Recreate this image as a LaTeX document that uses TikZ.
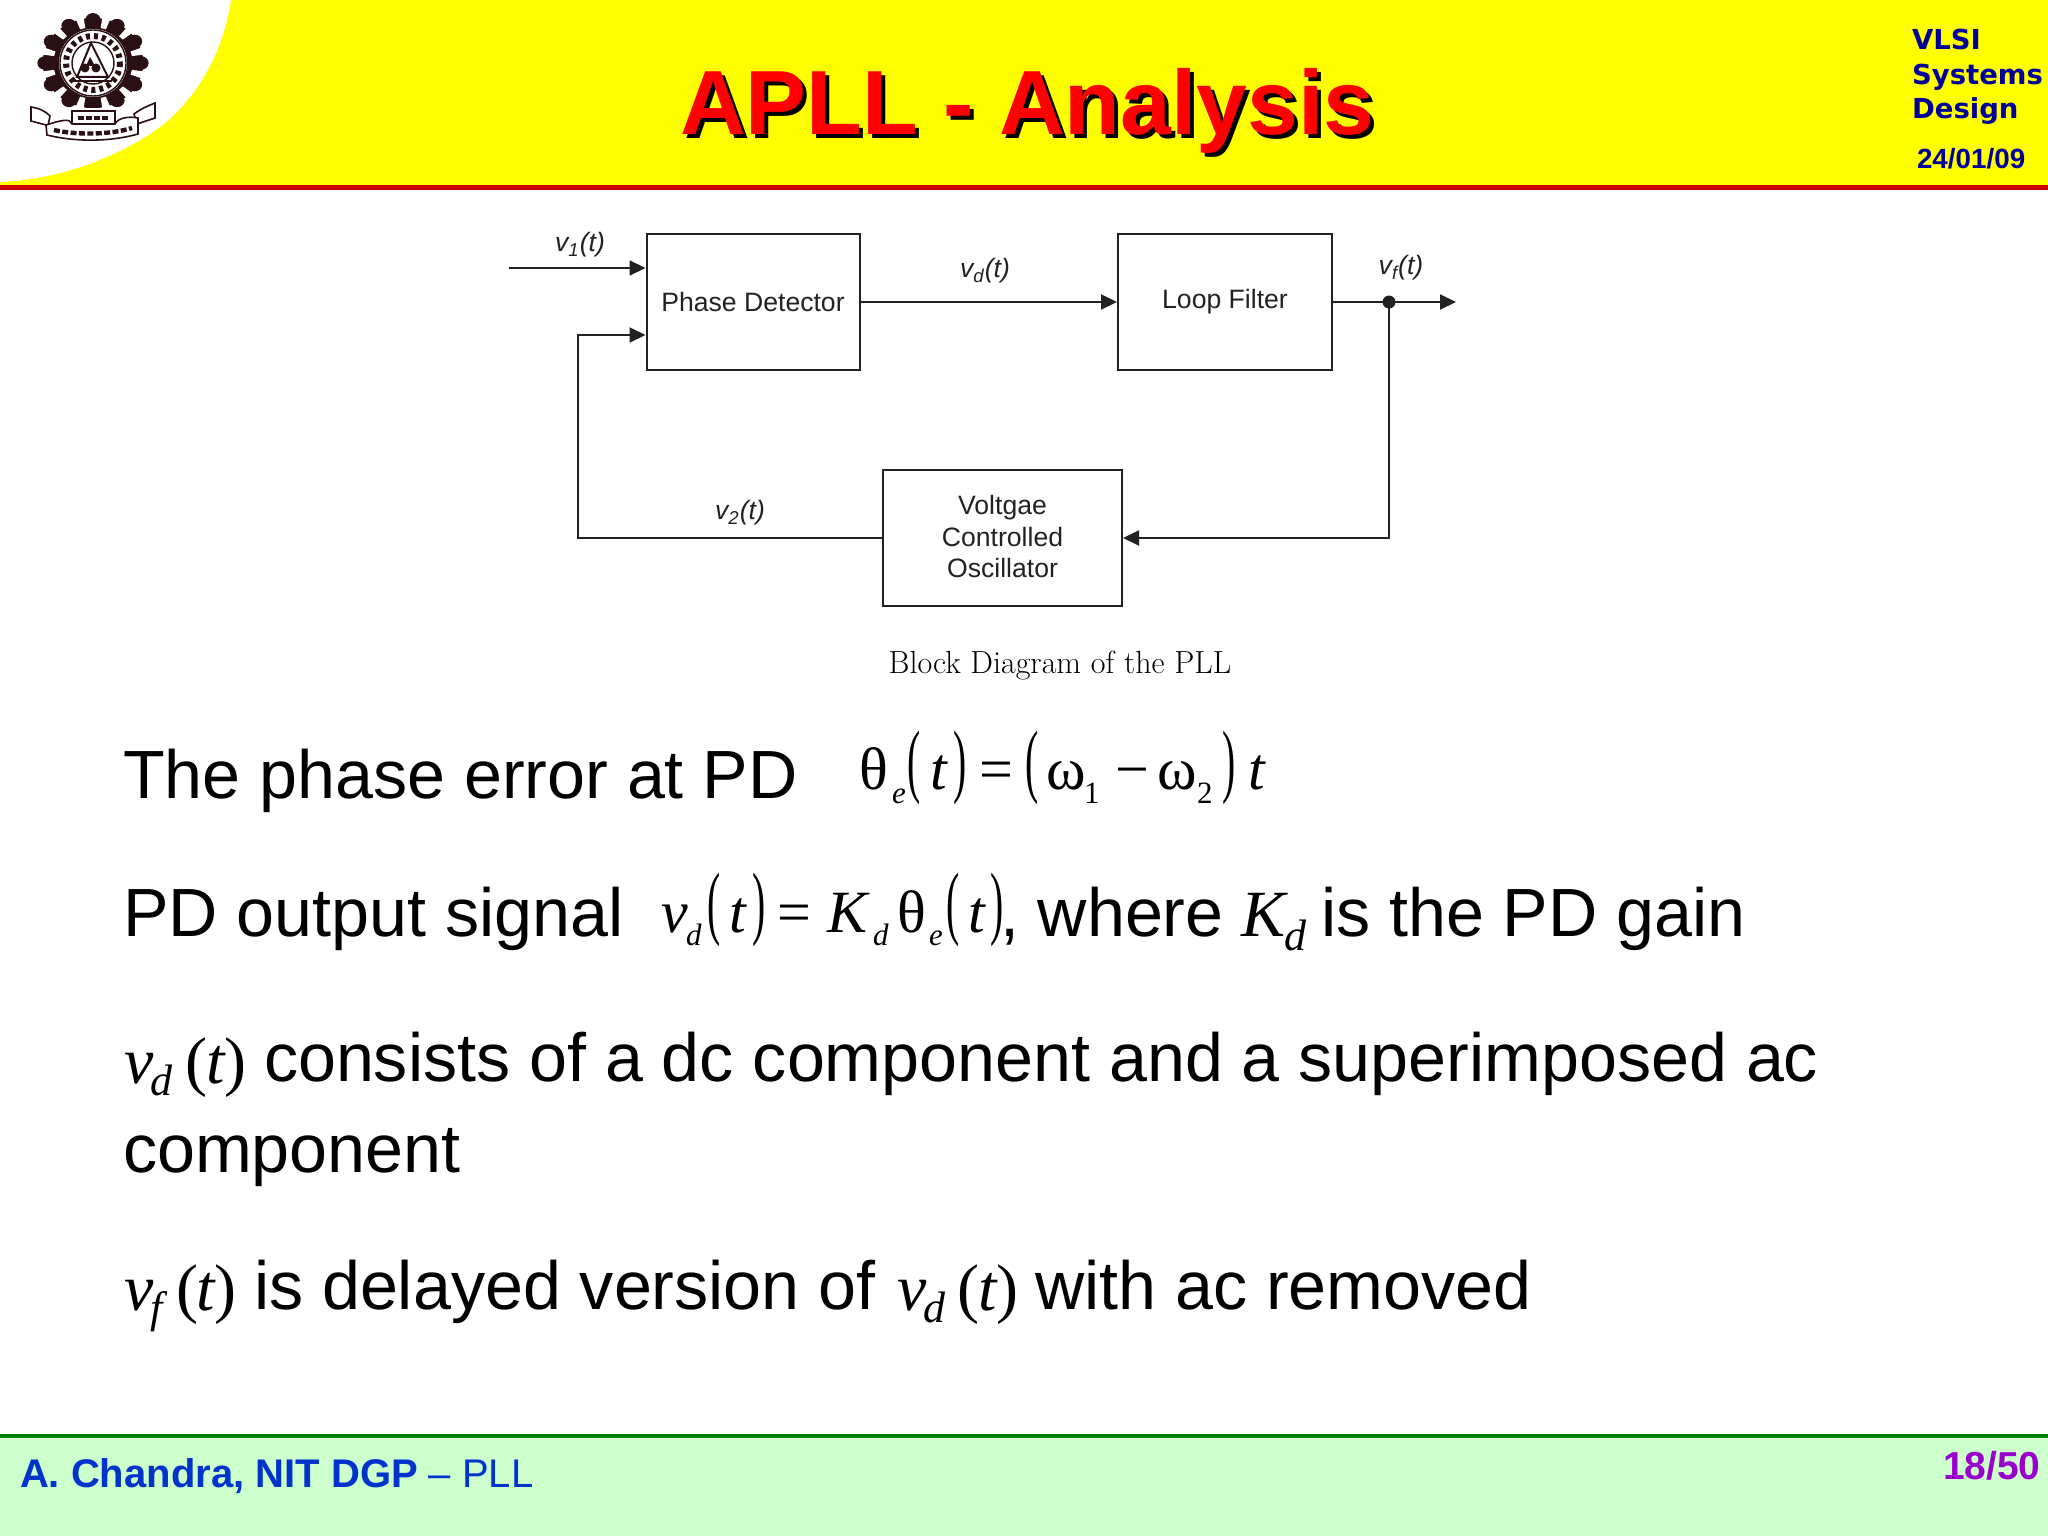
\documentclass[tikz,border=0pt]{standalone}
\usepackage{fontspec}
\usepackage{graphicx}
\usetikzlibrary{arrows.meta}
\newfontfamily\arl{Liberation Sans}
\newfontfamily\tms{Liberation Serif}
\newfontfamily\vrd{DejaVu Sans}
\definecolor{hdryellow}{HTML}{FFFF00}
\definecolor{hdrred}{HTML}{CC0000}
\definecolor{navyt}{HTML}{000099}
\definecolor{footg}{HTML}{CCFFCC}
\definecolor{footl}{HTML}{008000}
\definecolor{footb}{HTML}{0033CC}
\definecolor{pagep}{HTML}{9900CC}
\definecolor{logod}{HTML}{2A0F14}
\definecolor{ink}{HTML}{222222}
\tikzset{
  x=0.5pt,y=-0.5pt,
  lab/.style={anchor=base west,inner sep=0pt,outer sep=0pt},
  body/.style={lab,font=\arl\fontsize{34.1}{40}\selectfont,text=black},
  mi/.style={lab,font=\tms\itshape\fontsize{30}{34}\selectfont,text=black},
  mr/.style={lab,font=\tms\fontsize{30}{34}\selectfont,text=black},
  mlargei/.style={lab,font=\tms\itshape\fontsize{33}{40}\selectfont,text=black},
  mlarger/.style={lab,font=\tms\fontsize{33}{40}\selectfont,text=black},
  msub/.style={lab,font=\tms\itshape\fontsize{15.5}{18}\selectfont,text=black},
  msubr/.style={lab,font=\tms\fontsize{15.5}{18}\selectfont,text=black},
  mlsub/.style={lab,font=\tms\itshape\fontsize{22}{26}\selectfont,text=black},
  par/.style={anchor=center,inner sep=0pt,font=\tms\fontsize{22}{26}\selectfont,text=black},
  blockbox/.style={draw=ink,line width=1pt,inner sep=0pt,align=center,font=\arl\fontsize{13.3}{15.7}\selectfont,text=ink},
  sig/.style={inner sep=0pt,anchor=center,font=\arl\itshape\fontsize{13.3}{16}\selectfont,text=ink},
  wire/.style={draw=ink,line width=1pt},
  arrowed/.style={wire,-{Triangle[length=8pt,width=7.5pt]}}
}
\newcommand{\tallp}[1]{\scalebox{0.9}[1.85]{#1}}
\begin{document}
\begin{tikzpicture}
\useasboundingbox (0,0) rectangle (2048,1536);
\fill[white] (0,0) rectangle (2048,1536);
% header
\fill[hdryellow] (0,0) rectangle (2048,186);
\fill[white] (0,0) -- (231,0) .. controls (222,60) and (190,108) .. (150,134) .. controls (105,163) and (50,180) .. (0,182) -- cycle;
\fill[hdrred] (0,185) rectangle (2048,190);
% logo
\begin{scope}[shift={(93,63)}]
  \begin{scope}
  \clip (-60,-60) rectangle (60,45);
  \begin{scope}[xscale=1.07,yscale=0.96]
  \fill[logod] (0,0) circle (47);
  \foreach \a in {0,30,...,330} \fill[logod] (\a:45) circle (7);
  \foreach \a in {15,45,...,345} \fill[white,rotate=\a] (37,-2.5) -- (55,-4.5) -- (55,4.5) -- (37,2.5) -- cycle;
  \end{scope}
  \end{scope}
  \fill[white] (0,0) circle (34);
  \draw[logod,line width=0.7pt] (0,0) circle (33);
  \draw[logod,line width=3pt,dash pattern=on 2pt off 2pt] (0,0) circle (27);
  \draw[logod,line width=0.7pt] (0,0) circle (21);
  \draw[logod,line width=1pt] (-2,-20) -- (-16,14) -- (15,14) -- cycle;
  \fill[logod] (-8,5) circle (4.5) (3,5) circle (4.5);
  \fill[logod] (-3,-6) -- (-7,3) -- (2,3) -- cycle;
  \draw[logod,line width=1pt] (-19,18) -- (19,18);
\end{scope}
\filldraw[fill=white,draw=logod,line width=0.8pt] (72,111) rectangle (115,124);
\draw[logod,line width=2pt,dash pattern=on 3pt off 1pt] (78,118) -- (110,118);
\filldraw[fill=white,draw=logod,line width=0.8pt] (46,125) -- (31,121) -- (31,107) .. controls (38,108) and (44,110) .. (50,116) -- (48,126) -- cycle;
\filldraw[fill=white,draw=logod,line width=0.8pt] (137,124) -- (155,118) -- (155,103) .. controls (148,106) and (142,108) .. (134,114) -- cycle;
\filldraw[fill=white,draw=logod,line width=0.8pt] (46,125) .. controls (62,120) and (70,118) .. (72,124) -- (115,124) .. controls (118,118) and (128,116) .. (138,118) -- (138,134) .. controls (110,142) and (75,142) .. (47,135) -- cycle;
\draw[logod,line width=2.2pt,dash pattern=on 3pt off 1.2pt] (54,130) .. controls (75,135) and (110,135) .. (132,128);
% title
\node[lab,font=\arl\bfseries\fontsize{45.6}{50}\selectfont,text=black] (titleshadow) at (684,138) {APLL - Analysis};
\node[lab,font=\arl\bfseries\fontsize{45.6}{50}\selectfont,text=red] (title) at (680,134) {APLL - Analysis};
% corner
\node[lab,font=\vrd\bfseries\fontsize{13.75}{16}\selectfont,text=navyt] (vlsi) at (1912,50) {VLSI};
\node[lab,font=\vrd\bfseries\fontsize{13.75}{16}\selectfont,text=navyt] (systems) at (1912,84) {Systems};
\node[lab,font=\vrd\bfseries\fontsize{13.75}{16}\selectfont,text=navyt] (design) at (1912,119) {Design};
\node[lab,font=\arl\bfseries\fontsize{13.9}{16}\selectfont,text=navyt] (date) at (1917,168) {24/01/09};
% block diagram
\node[blockbox,minimum width=106.5pt,minimum height=68pt] (pd) at (753,302) {Phase Detector};
\node[blockbox,minimum width=107pt,minimum height=68pt] (lf) at (1225,302) {Loop Filter};
\node[blockbox,minimum width=119.5pt,minimum height=68pt] (vco) at (1002.5,538) {Voltgae\\Controlled\\Oscillator\rule[-1.5pt]{0pt}{1pt}};
\coordinate (inp) at (509,268);
\coordinate (fbk) at (578,335);
\coordinate (jun) at (1389,302);
\coordinate (out) at (1456,302);
\draw[arrowed] (inp) -- (inp -| pd.west);
\draw[arrowed] (pd.east) -- (lf.west);
\draw[wire] (lf.east) -- (jun);
\draw[arrowed] (jun) -- (out);
\node[circle,fill=ink,inner sep=0pt,minimum size=6.5pt] (dot) at (jun) {};
\draw[arrowed] (dot.center) |- (vco.east);
\draw[arrowed] (vco.west) -| (fbk) -- (fbk -| pd.west);
\node[sig] (v1) at (580,245) {v\textsubscript{1}(t)};
\node[sig] (vdl) at (985,271) {v\textsubscript{d}(t)};
\node[sig] (vfl) at (1401,268) {v\textsubscript{f}(t)};
\node[sig] (v2) at (740,513) {v\textsubscript{2}(t)};
\node[inner sep=0pt,font=\fontsize{16}{18}\selectfont,text=black] (caption) at (1060,666) {Block Diagram of the PLL};
% line 1
\node[body] (t1) at (123,798) {The phase error at PD};
\node[mr] (a1) at (859,789) {θ};
\node[msub] (a2) at (892,803) {e};
\node[par] (a3) at (914,768) {\tallp{(}};
\node[mi] (a4) at (930,789) {t};
\node[par] (a5) at (960,768) {\tallp{)}};
\node[mr] (a6) at (979,789) {=};
\node[par] (a7) at (1032,768) {\tallp{(}};
\node[mr] (a8) at (1046,789) {ω};
\node[msubr] (a9) at (1084,803) {1};
\node[mr] (a10) at (1115,789) {−};
\node[mr] (a11) at (1157,789) {ω};
\node[msubr] (a12) at (1197,803) {2};
\node[par] (a13) at (1229,768) {\tallp{)}};
\node[mi] (a14) at (1248,789) {t};
% line 2
\node[body] (t2) at (123,936) {PD output signal};
\node[mi] (b1) at (661,932) {v};
\node[msub] (b2) at (686,945) {d};
\node[par] (b3) at (714,910) {\tallp{(}};
\node[mi] (b4) at (729,932) {t};
\node[par] (b5) at (759,910) {\tallp{)}};
\node[mr] (b6) at (777,932) {=};
\node[mi] (b7) at (827,932) {K};
\node[msub] (b8) at (873,945) {d};
\node[mr] (b9) at (897,932) {θ};
\node[msub] (b10) at (929,945) {e};
\node[par] (b11) at (953,910) {\tallp{(}};
\node[mi] (b12) at (968,932) {t};
\node[par] (b13) at (997,910) {\tallp{)}};
\node[body] (t3) at (1000,936) {, where};
\node[mlargei] (b14) at (1241,936) {K};
\node[mlsub] (b15) at (1284,950) {d};
\node[body] (t4) at (1321,936) {is the PD gain};
% line 3
\node[mlargei] (c1) at (124,1083) {v};
\node[mlsub] (c2) at (150,1095) {d};
\node[mlarger] (c3) at (185,1083) {(};
\node[mlargei] (c4) at (206,1083) {t};
\node[mlarger] (c5) at (224,1083) {)};
\node[body] (t5) at (264,1081) {consists of a dc component and a superimposed ac};
\node[body] (t6) at (123,1172) {component};
% line 5
\node[mlargei] (e1) at (124,1310) {v};
\node[mlsub] (e2) at (150,1322) {f};
\node[mlarger] (e3) at (176,1310) {(};
\node[mlargei] (e4) at (196,1310) {t};
\node[mlarger] (e5) at (214,1310) {)};
\node[body] (t7) at (254,1309) {is delayed version of};
\node[mlargei] (e6) at (897,1310) {v};
\node[mlsub] (e7) at (923,1322) {d};
\node[mlarger] (e8) at (957,1310) {(};
\node[mlargei] (e9) at (978,1310) {t};
\node[mlarger] (e10) at (996,1310) {)};
\node[body] (t8) at (1035,1309) {with ac removed};
% footer
\fill[footg] (0,1436) rectangle (2048,1536);
\fill[footl] (0,1434) rectangle (2048,1438);
\node[lab,font=\arl\fontsize{20}{24}\selectfont,text=footb] (foot) at (20,1487) {\textbf{A. Chandra, NIT DGP} – PLL};
\node[anchor=base east,inner sep=0pt,font=\arl\bfseries\fontsize{19.5}{24}\selectfont,text=pagep] (page) at (2041,1479) {18/50};
\end{tikzpicture}
\end{document}
